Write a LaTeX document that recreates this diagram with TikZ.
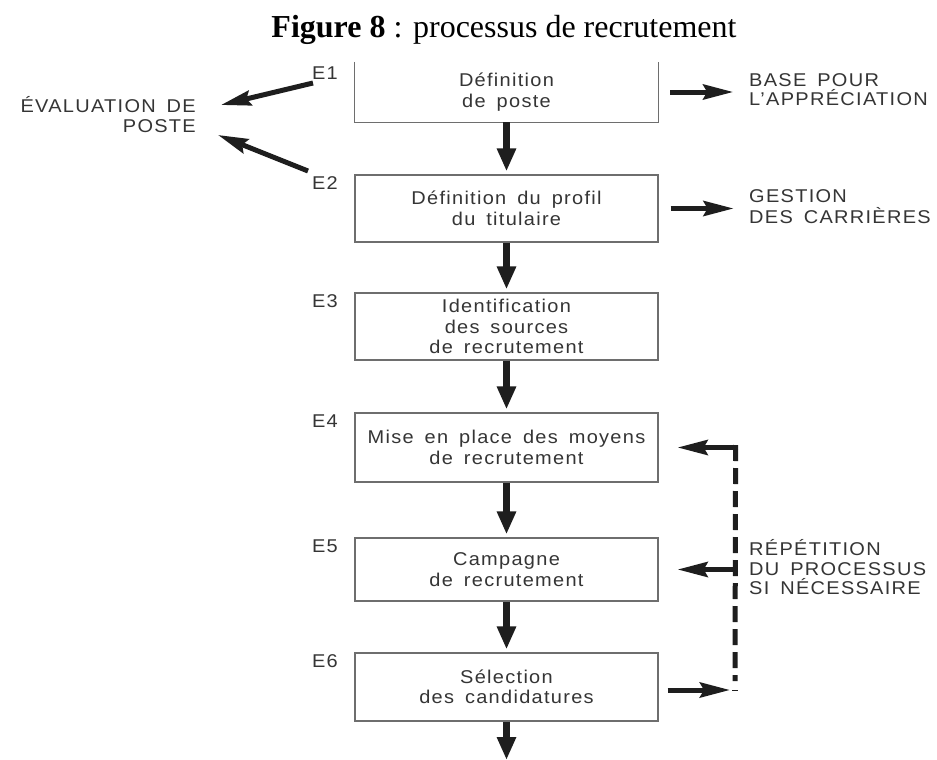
\documentclass[tikz,border=0pt]{standalone}
\usepackage{fontspec}
\setmainfont{Liberation Serif}
\newfontfamily\diagfont[FakeStretch=1.08,LetterSpace=7,WordSpace=1.6,Ligatures=NoCommon]{Liberation Sans}
\usetikzlibrary{arrows.meta}
\definecolor{inkgray}{HTML}{353535}
\definecolor{framegray}{HTML}{6E6E6E}
\definecolor{arrowblack}{HTML}{1E1E1E}

\begin{document}
\begin{tikzpicture}[x=1pt,y=-1pt,
  stage/.style={minimum width=303pt, inner sep=0pt, align=center, text=inkgray,
    font=\diagfont\fontsize{18.5}{20.5}\selectfont},
  frame/.style={draw=framegray, line width=1.2pt},
  tag/.style={inner sep=0pt, text=inkgray, font=\diagfont\fontsize{18.5}{20}\selectfont},
  flow/.style={draw=arrowblack, line width=6.5pt, -{Triangle[length=23pt,width=18pt]}},
  side/.style={draw=arrowblack, line width=5pt, -{Stealth[length=30pt,width=15pt,inset=4pt]}},
  loopline/.style={draw=arrowblack, line width=5pt, dash pattern=on 16pt off 7pt},
]
\useasboundingbox (0,0) rectangle (937,760);
\fill[white] (0,0) rectangle (937,760);

% title
\node[anchor=base, inner sep=0pt, font=\fontsize{32}{38}\selectfont] (title) at (504,38)
  {\textbf{Figure 8} : processus de recrutement};

% process stages
\node[stage, minimum height=60pt] (b1) at (506.5,92) {Définition\\de poste};
\draw[frame] (b1.north west) -- (b1.south west) -- (b1.south east) -- (b1.north east);
\node[stage, frame, minimum height=67pt] (b2) at (506.5,208.5) {Définition du profil\\du titulaire};
\node[stage, frame, minimum height=67pt] (b3) at (506.5,326.5) {Identification\\des sources\\de recrutement};
\node[stage, frame, minimum height=69pt] (b4) at (506.5,447.5) {Mise en place des moyens\\de recrutement};
\node[stage, frame, minimum height=63pt] (b5) at (506.5,569.5) {Campagne\\de recrutement};
\node[stage, frame, minimum height=68pt] (b6) at (506.5,687) {Sélection\\des candidatures};

% stage numbers
\node[tag, anchor=base east] (e1) at (338,80) {E1};
\node[tag, anchor=base east] (e2) at (338,189) {E2};
\node[tag, anchor=base east] (e3) at (338,307) {E3};
\node[tag, anchor=base east] (e4) at (338,427) {E4};
\node[tag, anchor=base east] (e5) at (338,552) {E5};
\node[tag, anchor=base east] (e6) at (338,667) {E6};

% main flow
\coordinate (out) at (506.5,760);
\draw[flow] (b1.south) -- ([yshift=3pt]b2.north);
\draw[flow] (b2.south) -- ([yshift=3pt]b3.north);
\draw[flow] (b3.south) -- ([yshift=3pt]b4.north);
\draw[flow] (b4.south) -- ([yshift=3pt]b5.north);
\draw[flow] (b5.south) -- ([yshift=3pt]b6.north);
\draw[flow] (b6.south) -- (out);

% job evaluation (left)
\node[tag, anchor=base east] (ev1) at (196,112) {ÉVALUATION DE};
\node[tag, anchor=base east] (ev2) at (196,132) {POSTE};
\coordinate (s1) at (313,83);
\coordinate (s2) at (308,171);
\coordinate (v1) at (221,105);
\coordinate (v2) at (218,135);
\draw[side] (s1) -- (v1);
\draw[side] (s2) -- (v2);

% outputs (right)
\node[tag, anchor=base west] (bp1) at (749,87) {BASE POUR};
\node[tag, anchor=base west] (bp2) at (749,106) {L’APPRÉCIATION};
\node[tag, anchor=base west] (gc1) at (749,202) {GESTION};
\node[tag, anchor=base west] (gc2) at (749,223) {DES CARRIÈRES};
\draw[side] ([xshift=12pt]b1.east) -- ([xshift=75pt]b1.east);
\draw[side] ([xshift=12pt]b2.east) -- ([xshift=75pt]b2.east);

% repetition loop
\node[tag, anchor=base west] (rp1) at (749,555) {RÉPÉTITION};
\node[tag, anchor=base west] (rp2) at (749,575) {DU PROCESSUS};
\node[tag, anchor=base west] (rp3) at (749,594) {SI NÉCESSAIRE};
\coordinate (r4) at ([xshift=77pt]b4.east);
\coordinate (r5) at ([xshift=77pt]b5.east);
\coordinate (rend) at (735,681);
\coordinate (r6) at (735,690);
\draw[loopline] ([yshift=2.5pt]r4) -- (rend);
\draw[side] ([xshift=2.5pt]r4) -- ([xshift=19pt]b4.east);
\draw[side] ([xshift=2.5pt]r5) -- ([xshift=19pt]b5.east);
\draw[side] ([xshift=9pt,yshift=-3pt]b6.east) -- ([xshift=-5pt]r6);
\draw[arrowblack, line width=1pt] ([xshift=-3pt]r6) -- ([xshift=3pt]r6);
\end{tikzpicture}
\end{document}
